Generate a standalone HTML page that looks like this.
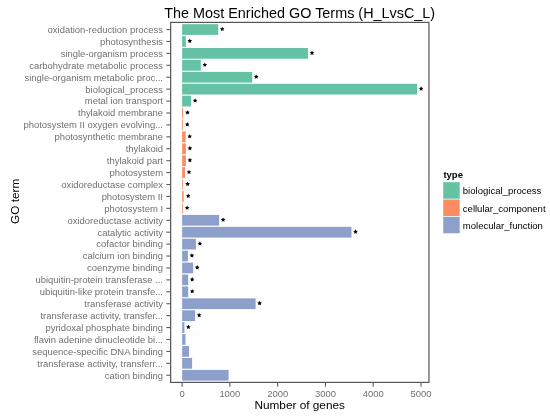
<!DOCTYPE html>
<html><head><meta charset="utf-8"><style>
html,body{margin:0;padding:0;background:#fff;}
body{width:550px;height:417px;overflow:hidden;}
svg{display:block;will-change:transform;}
text{font-family:"Liberation Sans",sans-serif;}
.ax{font-size:9.45px;fill:#707070;}
.title{font-size:14.4px;fill:#000;}
.axt{font-size:11.8px;fill:#000;}
.lt{font-size:9.5px;font-weight:bold;fill:#000;}
.lg{font-size:9.55px;fill:#000;}
</style></head><body>
<svg width="550" height="417" viewBox="0 0 550 417">
<rect x="170.65" y="22.4" width="258.30" height="360.00" fill="#fff" stroke="none"/>
<rect x="182.1" y="24.19" width="36.10" height="10.73" fill="#66C2A5"/>
<polygon points="222.20,26.70 222.91,28.13 224.48,28.36 223.34,29.47 223.61,31.04 222.20,30.30 220.79,31.04 221.06,29.47 219.92,28.36 221.49,28.13" fill="#000"/>
<line x1="166.3" y1="29.55" x2="170.65" y2="29.55" stroke="#5e5e5e" stroke-width="1.1"/>
<text x="163" y="32.90" text-anchor="end" class="ax">oxidation-reduction process</text>
<rect x="182.1" y="36.11" width="3.70" height="10.73" fill="#66C2A5"/>
<polygon points="189.80,38.62 190.51,40.05 192.08,40.28 190.94,41.39 191.21,42.96 189.80,42.22 188.39,42.96 188.66,41.39 187.52,40.28 189.09,40.05" fill="#000"/>
<line x1="166.3" y1="41.47" x2="170.65" y2="41.47" stroke="#5e5e5e" stroke-width="1.1"/>
<text x="163" y="44.82" text-anchor="end" class="ax">photosynthesis</text>
<rect x="182.1" y="48.03" width="125.90" height="10.73" fill="#66C2A5"/>
<polygon points="312.00,50.54 312.71,51.97 314.28,52.20 313.14,53.31 313.41,54.89 312.00,54.14 310.59,54.89 310.86,53.31 309.72,52.20 311.29,51.97" fill="#000"/>
<line x1="166.3" y1="53.39" x2="170.65" y2="53.39" stroke="#5e5e5e" stroke-width="1.1"/>
<text x="163" y="56.74" text-anchor="end" class="ax">single-organism process</text>
<rect x="182.1" y="59.95" width="18.70" height="10.73" fill="#66C2A5"/>
<polygon points="204.80,62.46 205.51,63.89 207.08,64.12 205.94,65.23 206.21,66.81 204.80,66.06 203.39,66.81 203.66,65.23 202.52,64.12 204.09,63.89" fill="#000"/>
<line x1="166.3" y1="65.31" x2="170.65" y2="65.31" stroke="#5e5e5e" stroke-width="1.1"/>
<text x="163" y="68.66" text-anchor="end" class="ax">carbohydrate metabolic process</text>
<rect x="182.1" y="71.87" width="70.10" height="10.73" fill="#66C2A5"/>
<polygon points="256.20,74.38 256.91,75.81 258.48,76.04 257.34,77.16 257.61,78.73 256.20,77.98 254.79,78.73 255.06,77.16 253.92,76.04 255.49,75.81" fill="#000"/>
<line x1="166.3" y1="77.23" x2="170.65" y2="77.23" stroke="#5e5e5e" stroke-width="1.1"/>
<text x="163" y="80.58" text-anchor="end" class="ax">single-organism metabolic proc...</text>
<rect x="182.1" y="83.79" width="235.00" height="10.73" fill="#66C2A5"/>
<polygon points="421.10,86.30 421.81,87.73 423.38,87.96 422.24,89.08 422.51,90.65 421.10,89.90 419.69,90.65 419.96,89.08 418.82,87.96 420.39,87.73" fill="#000"/>
<line x1="166.3" y1="89.15" x2="170.65" y2="89.15" stroke="#5e5e5e" stroke-width="1.1"/>
<text x="163" y="92.50" text-anchor="end" class="ax">biological_process</text>
<rect x="182.1" y="95.71" width="9.00" height="10.73" fill="#66C2A5"/>
<polygon points="195.10,98.23 195.81,99.65 197.38,99.88 196.24,101.00 196.51,102.57 195.10,101.83 193.69,102.57 193.96,101.00 192.82,99.88 194.39,99.65" fill="#000"/>
<line x1="166.3" y1="101.08" x2="170.65" y2="101.08" stroke="#5e5e5e" stroke-width="1.1"/>
<text x="163" y="104.43" text-anchor="end" class="ax">metal ion transport</text>
<rect x="182.1" y="107.63" width="1.00" height="10.73" fill="#FC8D62"/>
<polygon points="187.50,110.15 188.21,111.58 189.78,111.80 188.64,112.92 188.91,114.49 187.50,113.75 186.09,114.49 186.36,112.92 185.22,111.80 186.79,111.58" fill="#000"/>
<line x1="166.3" y1="113.00" x2="170.65" y2="113.00" stroke="#5e5e5e" stroke-width="1.1"/>
<text x="163" y="116.35" text-anchor="end" class="ax">thylakoid membrane</text>
<rect x="182.1" y="119.55" width="0.80" height="10.73" fill="#FC8D62"/>
<polygon points="187.30,122.07 188.01,123.50 189.58,123.72 188.44,124.84 188.71,126.41 187.30,125.67 185.89,126.41 186.16,124.84 185.02,123.72 186.59,123.50" fill="#000"/>
<line x1="166.3" y1="124.92" x2="170.65" y2="124.92" stroke="#5e5e5e" stroke-width="1.1"/>
<text x="163" y="128.27" text-anchor="end" class="ax">photosystem II oxygen evolving...</text>
<rect x="182.1" y="131.47" width="3.60" height="10.73" fill="#FC8D62"/>
<polygon points="189.70,133.99 190.41,135.42 191.98,135.65 190.84,136.76 191.11,138.33 189.70,137.59 188.29,138.33 188.56,136.76 187.42,135.65 188.99,135.42" fill="#000"/>
<line x1="166.3" y1="136.84" x2="170.65" y2="136.84" stroke="#5e5e5e" stroke-width="1.1"/>
<text x="163" y="140.19" text-anchor="end" class="ax">photosynthetic membrane</text>
<rect x="182.1" y="143.39" width="3.80" height="10.73" fill="#FC8D62"/>
<polygon points="189.90,145.91 190.61,147.34 192.18,147.57 191.04,148.68 191.31,150.25 189.90,149.51 188.49,150.25 188.76,148.68 187.62,147.57 189.19,147.34" fill="#000"/>
<line x1="166.3" y1="148.76" x2="170.65" y2="148.76" stroke="#5e5e5e" stroke-width="1.1"/>
<text x="163" y="152.11" text-anchor="end" class="ax">thylakoid</text>
<rect x="182.1" y="155.31" width="3.80" height="10.73" fill="#FC8D62"/>
<polygon points="189.90,157.83 190.61,159.26 192.18,159.49 191.04,160.60 191.31,162.17 189.90,161.43 188.49,162.17 188.76,160.60 187.62,159.49 189.19,159.26" fill="#000"/>
<line x1="166.3" y1="160.68" x2="170.65" y2="160.68" stroke="#5e5e5e" stroke-width="1.1"/>
<text x="163" y="164.03" text-anchor="end" class="ax">thylakoid part</text>
<rect x="182.1" y="167.23" width="2.90" height="10.73" fill="#FC8D62"/>
<polygon points="189.00,169.75 189.71,171.18 191.28,171.41 190.14,172.52 190.41,174.09 189.00,173.35 187.59,174.09 187.86,172.52 186.72,171.41 188.29,171.18" fill="#000"/>
<line x1="166.3" y1="172.60" x2="170.65" y2="172.60" stroke="#5e5e5e" stroke-width="1.1"/>
<text x="163" y="175.95" text-anchor="end" class="ax">photosystem</text>
<rect x="182.1" y="179.15" width="0.80" height="10.73" fill="#FC8D62"/>
<polygon points="187.60,181.67 188.31,183.10 189.88,183.33 188.74,184.44 189.01,186.01 187.60,185.27 186.19,186.01 186.46,184.44 185.32,183.33 186.89,183.10" fill="#000"/>
<line x1="166.3" y1="184.52" x2="170.65" y2="184.52" stroke="#5e5e5e" stroke-width="1.1"/>
<text x="163" y="187.87" text-anchor="end" class="ax">oxidoreductase complex</text>
<rect x="182.1" y="191.08" width="1.60" height="10.73" fill="#FC8D62"/>
<polygon points="188.20,193.59 188.91,195.02 190.48,195.25 189.34,196.36 189.61,197.93 188.20,197.19 186.79,197.93 187.06,196.36 185.92,195.25 187.49,195.02" fill="#000"/>
<line x1="166.3" y1="196.44" x2="170.65" y2="196.44" stroke="#5e5e5e" stroke-width="1.1"/>
<text x="163" y="199.79" text-anchor="end" class="ax">photosystem II</text>
<rect x="182.1" y="203.00" width="0.80" height="10.73" fill="#FC8D62"/>
<polygon points="187.10,205.51 187.81,206.94 189.38,207.17 188.24,208.28 188.51,209.85 187.10,209.11 185.69,209.85 185.96,208.28 184.82,207.17 186.39,206.94" fill="#000"/>
<line x1="166.3" y1="208.36" x2="170.65" y2="208.36" stroke="#5e5e5e" stroke-width="1.1"/>
<text x="163" y="211.71" text-anchor="end" class="ax">photosystem I</text>
<rect x="182.1" y="214.92" width="37.00" height="10.73" fill="#8DA0CB"/>
<polygon points="223.10,217.43 223.81,218.86 225.38,219.09 224.24,220.20 224.51,221.77 223.10,221.03 221.69,221.77 221.96,220.20 220.82,219.09 222.39,218.86" fill="#000"/>
<line x1="166.3" y1="220.28" x2="170.65" y2="220.28" stroke="#5e5e5e" stroke-width="1.1"/>
<text x="163" y="223.63" text-anchor="end" class="ax">oxidoreductase activity</text>
<rect x="182.1" y="226.84" width="169.40" height="10.73" fill="#8DA0CB"/>
<polygon points="355.50,229.35 356.21,230.78 357.78,231.01 356.64,232.12 356.91,233.69 355.50,232.95 354.09,233.69 354.36,232.12 353.22,231.01 354.79,230.78" fill="#000"/>
<line x1="166.3" y1="232.20" x2="170.65" y2="232.20" stroke="#5e5e5e" stroke-width="1.1"/>
<text x="163" y="235.55" text-anchor="end" class="ax">catalytic activity</text>
<rect x="182.1" y="238.76" width="13.80" height="10.73" fill="#8DA0CB"/>
<polygon points="199.90,241.27 200.61,242.70 202.18,242.93 201.04,244.04 201.31,245.61 199.90,244.87 198.49,245.61 198.76,244.04 197.62,242.93 199.19,242.70" fill="#000"/>
<line x1="166.3" y1="244.12" x2="170.65" y2="244.12" stroke="#5e5e5e" stroke-width="1.1"/>
<text x="163" y="247.47" text-anchor="end" class="ax">cofactor binding</text>
<rect x="182.1" y="250.68" width="5.80" height="10.73" fill="#8DA0CB"/>
<polygon points="191.90,253.19 192.61,254.62 194.18,254.85 193.04,255.96 193.31,257.53 191.90,256.79 190.49,257.53 190.76,255.96 189.62,254.85 191.19,254.62" fill="#000"/>
<line x1="166.3" y1="256.04" x2="170.65" y2="256.04" stroke="#5e5e5e" stroke-width="1.1"/>
<text x="163" y="259.39" text-anchor="end" class="ax">calcium ion binding</text>
<rect x="182.1" y="262.60" width="11.10" height="10.73" fill="#8DA0CB"/>
<polygon points="197.20,265.11 197.91,266.54 199.48,266.77 198.34,267.88 198.61,269.45 197.20,268.71 195.79,269.45 196.06,267.88 194.92,266.77 196.49,266.54" fill="#000"/>
<line x1="166.3" y1="267.96" x2="170.65" y2="267.96" stroke="#5e5e5e" stroke-width="1.1"/>
<text x="163" y="271.31" text-anchor="end" class="ax">coenzyme binding</text>
<rect x="182.1" y="274.52" width="6.10" height="10.73" fill="#8DA0CB"/>
<polygon points="192.20,277.03 192.91,278.46 194.48,278.69 193.34,279.80 193.61,281.38 192.20,280.63 190.79,281.38 191.06,279.80 189.92,278.69 191.49,278.46" fill="#000"/>
<line x1="166.3" y1="279.88" x2="170.65" y2="279.88" stroke="#5e5e5e" stroke-width="1.1"/>
<text x="163" y="283.23" text-anchor="end" class="ax">ubiquitin-protein transferase ...</text>
<rect x="182.1" y="286.44" width="6.10" height="10.73" fill="#8DA0CB"/>
<polygon points="192.20,288.95 192.91,290.38 194.48,290.61 193.34,291.72 193.61,293.30 192.20,292.55 190.79,293.30 191.06,291.72 189.92,290.61 191.49,290.38" fill="#000"/>
<line x1="166.3" y1="291.80" x2="170.65" y2="291.80" stroke="#5e5e5e" stroke-width="1.1"/>
<text x="163" y="295.15" text-anchor="end" class="ax">ubiquitin-like protein transfe...</text>
<rect x="182.1" y="298.36" width="73.50" height="10.73" fill="#8DA0CB"/>
<polygon points="259.60,300.87 260.31,302.30 261.88,302.53 260.74,303.65 261.01,305.22 259.60,304.47 258.19,305.22 258.46,303.65 257.32,302.53 258.89,302.30" fill="#000"/>
<line x1="166.3" y1="303.72" x2="170.65" y2="303.72" stroke="#5e5e5e" stroke-width="1.1"/>
<text x="163" y="307.07" text-anchor="end" class="ax">transferase activity</text>
<rect x="182.1" y="310.28" width="13.00" height="10.73" fill="#8DA0CB"/>
<polygon points="199.10,312.80 199.81,314.22 201.38,314.45 200.24,315.57 200.51,317.14 199.10,316.40 197.69,317.14 197.96,315.57 196.82,314.45 198.39,314.22" fill="#000"/>
<line x1="166.3" y1="315.65" x2="170.65" y2="315.65" stroke="#5e5e5e" stroke-width="1.1"/>
<text x="163" y="319.00" text-anchor="end" class="ax">transferase activity, transfer...</text>
<rect x="182.1" y="322.20" width="2.30" height="10.73" fill="#8DA0CB"/>
<polygon points="188.40,324.72 189.11,326.14 190.68,326.37 189.54,327.49 189.81,329.06 188.40,328.32 186.99,329.06 187.26,327.49 186.12,326.37 187.69,326.14" fill="#000"/>
<line x1="166.3" y1="327.57" x2="170.65" y2="327.57" stroke="#5e5e5e" stroke-width="1.1"/>
<text x="163" y="330.92" text-anchor="end" class="ax">pyridoxal phosphate binding</text>
<rect x="182.1" y="334.12" width="3.40" height="10.73" fill="#8DA0CB"/>
<line x1="166.3" y1="339.49" x2="170.65" y2="339.49" stroke="#5e5e5e" stroke-width="1.1"/>
<text x="163" y="342.84" text-anchor="end" class="ax">flavin adenine dinucleotide bi...</text>
<rect x="182.1" y="346.04" width="6.90" height="10.73" fill="#8DA0CB"/>
<line x1="166.3" y1="351.41" x2="170.65" y2="351.41" stroke="#5e5e5e" stroke-width="1.1"/>
<text x="163" y="354.76" text-anchor="end" class="ax">sequence-specific DNA binding</text>
<rect x="182.1" y="357.96" width="10.00" height="10.73" fill="#8DA0CB"/>
<line x1="166.3" y1="363.33" x2="170.65" y2="363.33" stroke="#5e5e5e" stroke-width="1.1"/>
<text x="163" y="366.68" text-anchor="end" class="ax">transferase activity, transferr...</text>
<rect x="182.1" y="369.88" width="46.50" height="10.73" fill="#8DA0CB"/>
<line x1="166.3" y1="375.25" x2="170.65" y2="375.25" stroke="#5e5e5e" stroke-width="1.1"/>
<text x="163" y="378.60" text-anchor="end" class="ax">cation binding</text>
<rect x="170.65" y="22.4" width="258.30" height="360.00" fill="none" stroke="#555555" stroke-width="1.2"/>
<line x1="182.10" y1="382.4" x2="182.10" y2="386.7" stroke="#5e5e5e" stroke-width="1.1"/>
<text x="182.10" y="397.0" text-anchor="middle" class="ax">0</text>
<line x1="229.88" y1="382.4" x2="229.88" y2="386.7" stroke="#5e5e5e" stroke-width="1.1"/>
<text x="229.88" y="397.0" text-anchor="middle" class="ax">1000</text>
<line x1="277.66" y1="382.4" x2="277.66" y2="386.7" stroke="#5e5e5e" stroke-width="1.1"/>
<text x="277.66" y="397.0" text-anchor="middle" class="ax">2000</text>
<line x1="325.44" y1="382.4" x2="325.44" y2="386.7" stroke="#5e5e5e" stroke-width="1.1"/>
<text x="325.44" y="397.0" text-anchor="middle" class="ax">3000</text>
<line x1="373.22" y1="382.4" x2="373.22" y2="386.7" stroke="#5e5e5e" stroke-width="1.1"/>
<text x="373.22" y="397.0" text-anchor="middle" class="ax">4000</text>
<line x1="421.00" y1="382.4" x2="421.00" y2="386.7" stroke="#5e5e5e" stroke-width="1.1"/>
<text x="421.00" y="397.0" text-anchor="middle" class="ax">5000</text>
<text x="299.7" y="18.4" text-anchor="middle" class="title">The Most Enriched GO Terms (H_LvsC_L)</text>
<text x="299.7" y="408.8" text-anchor="middle" class="axt">Number of genes</text>
<text transform="translate(18.6,201.3) rotate(-90)" x="0" y="0" text-anchor="middle" class="axt">GO term</text>
<text x="443.4" y="177.6" class="lt">type</text>
<rect x="443.2" y="182.20" width="16.5" height="16.5" fill="#66C2A5"/>
<text x="462.8" y="194.29" class="lg">biological_process</text>
<rect x="443.2" y="199.48" width="16.5" height="16.5" fill="#FC8D62"/>
<text x="462.8" y="211.57" class="lg">cellular_component</text>
<rect x="443.2" y="216.76" width="16.5" height="16.5" fill="#8DA0CB"/>
<text x="462.8" y="228.85" class="lg">molecular_function</text>
</svg>
</body></html>
